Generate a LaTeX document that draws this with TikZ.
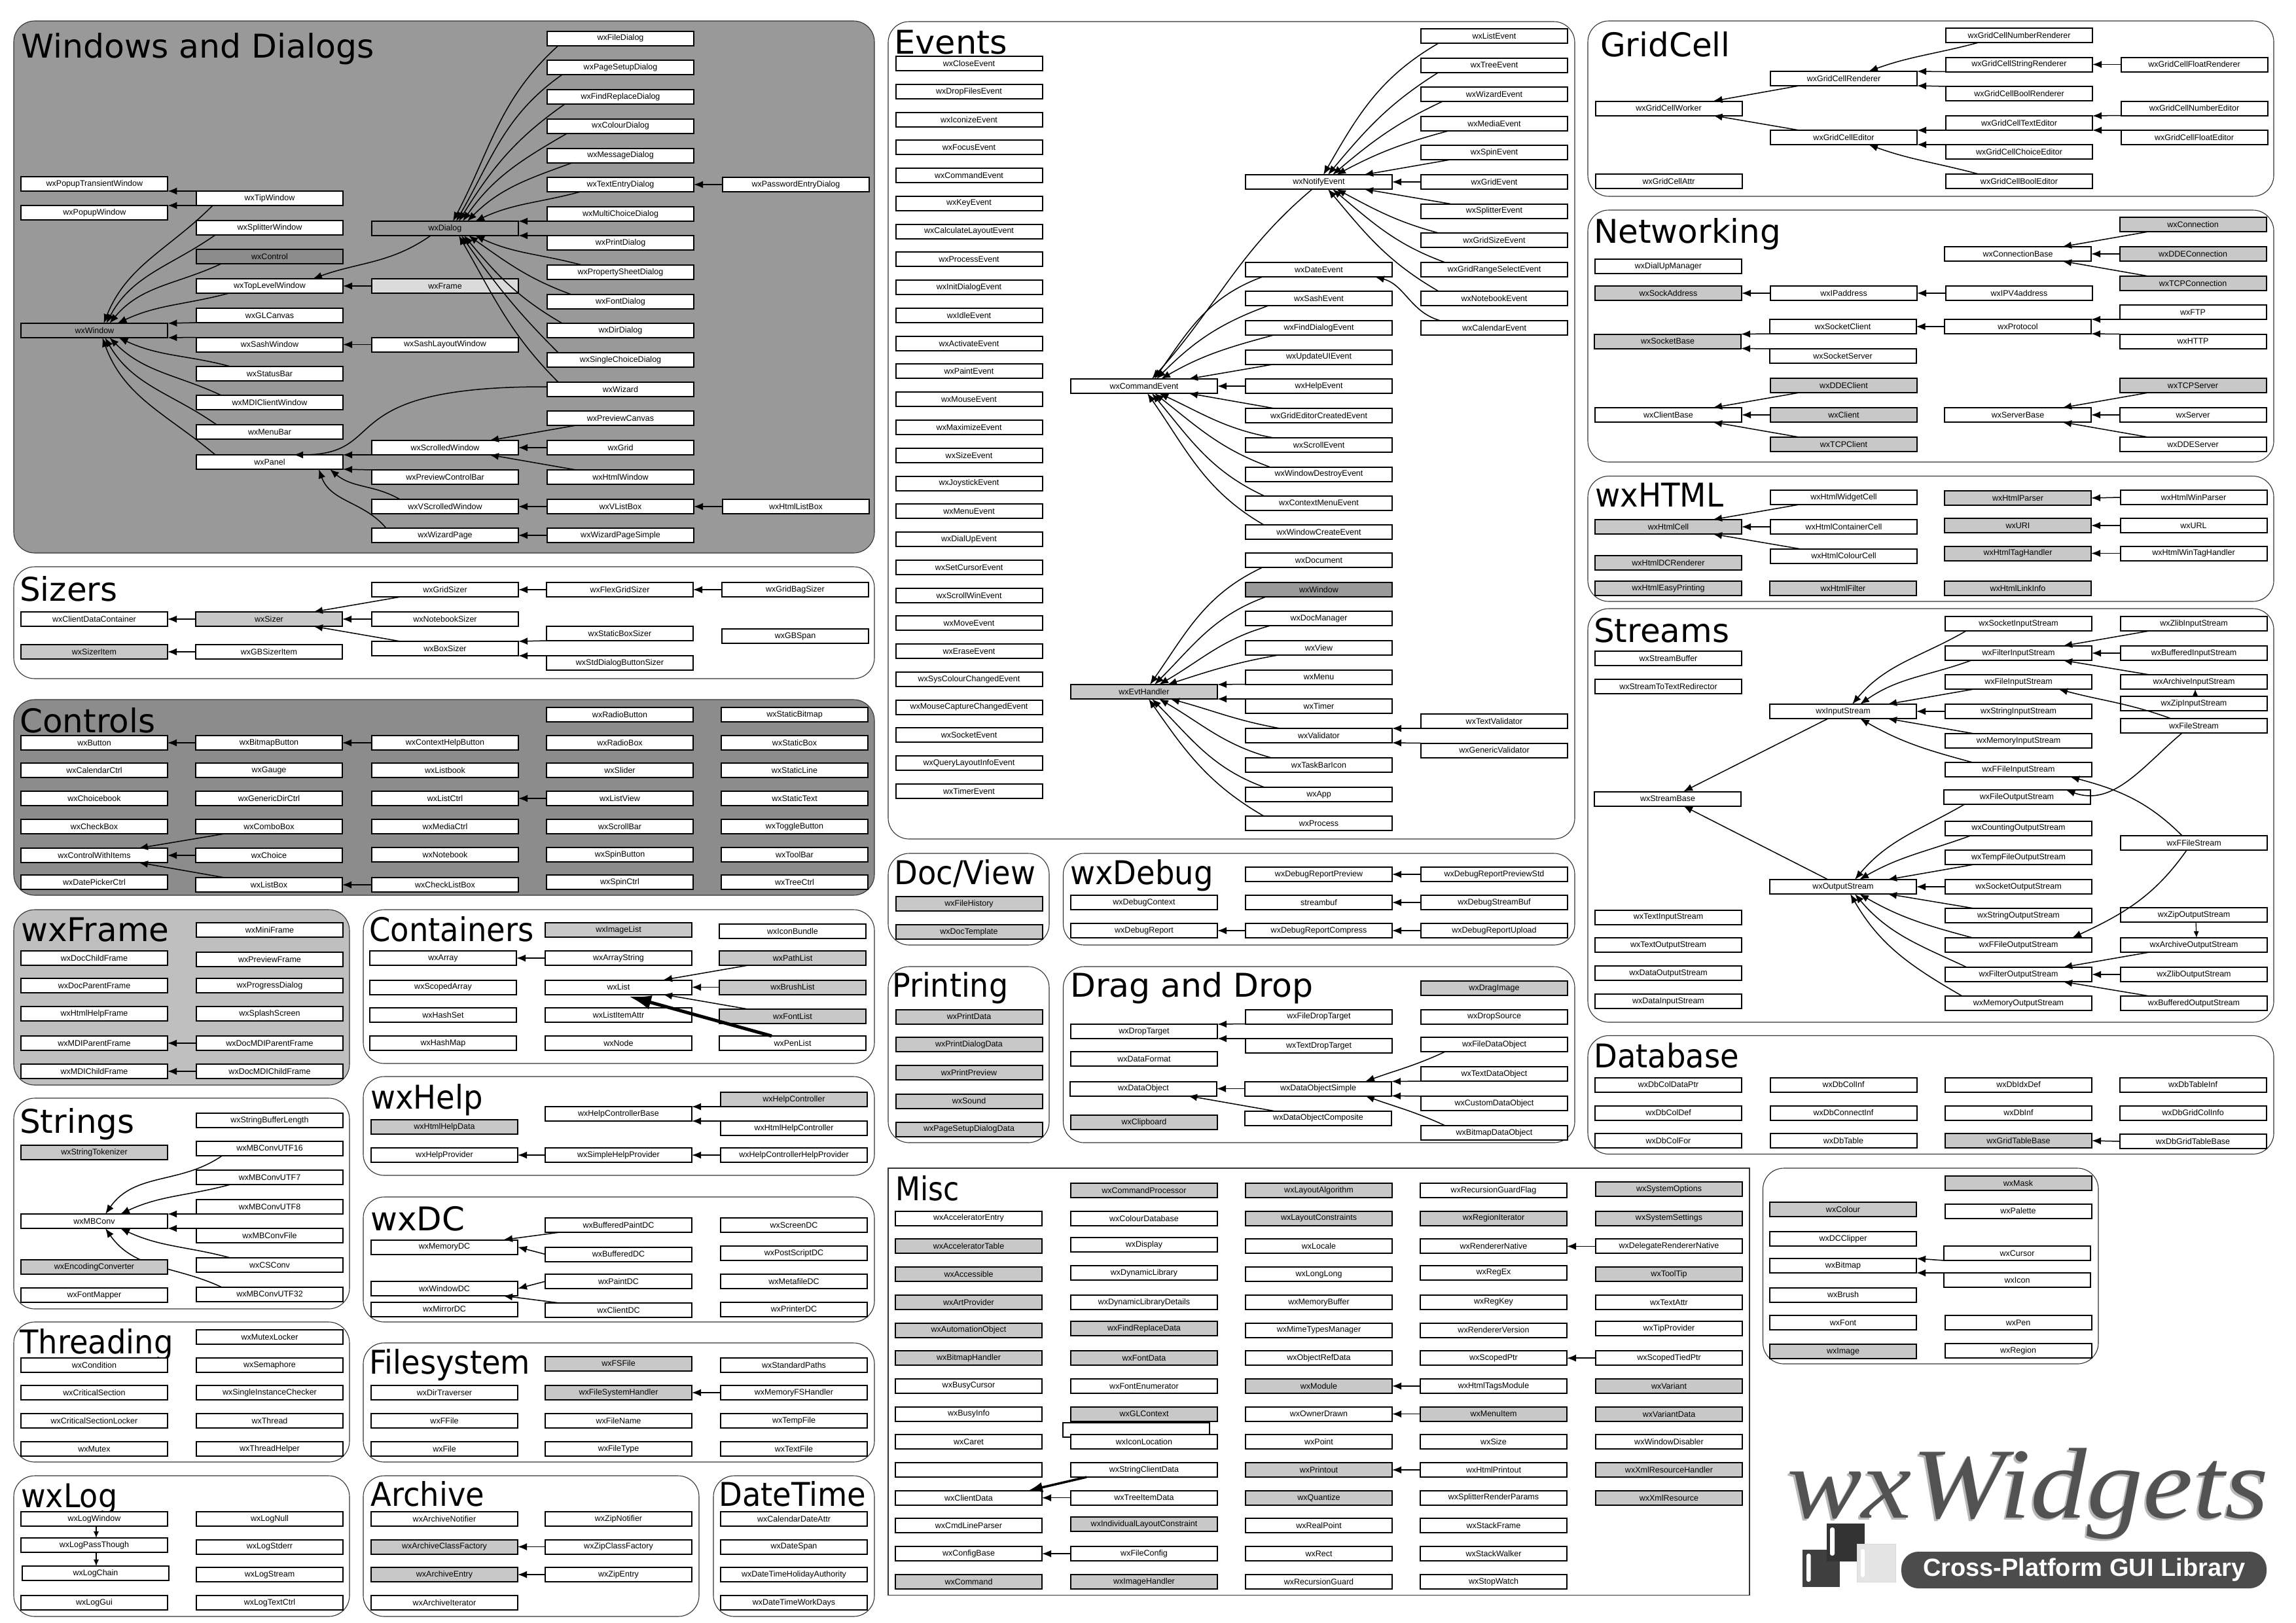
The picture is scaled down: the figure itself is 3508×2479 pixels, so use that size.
\documentclass[tikz,border=0pt]{standalone}
\usepackage{fontspec}
\usepackage{graphicx}
\setmainfont{Liberation Sans}
\newfontfamily\ttlfont{DejaVu Sans}
\newfontfamily\logofont{Liberation Serif}
\usetikzlibrary{arrows.meta}
\definecolor{gb}{HTML}{C8C8C8}
\tikzset{
 bx/.style={draw=black,fill=white,line width=2pt,minimum width=224pt,minimum height=22pt,inner sep=0pt,outer sep=0pt,font=\fontsize{12.5}{14}\selectfont},
 gy/.style={bx,fill=gb},
 ar/.style={draw=black,line width=1.5pt,-{Latex[length=14pt,width=11pt]}},
 pnl/.style={draw=black!80,line width=1.1pt,rounded corners=32pt},
 ttl/.style={anchor=base west,inner sep=0pt,font=\ttlfont\fontsize{50}{56}\selectfont}
}
\newcommand\Nw[3]{\node[bx] (#1) at (#2,#3) {#1};}
\newcommand\Ng[3]{\node[gy] (#1) at (#2,#3) {#1};}
\newcommand\Mw[3]{\node[bx] (#1) at (#2,{1819+42.7*#3}) {#1};}
\newcommand\Mg[3]{\node[gy] (#1) at (#2,{1819+42.7*#3}) {#1};}
\newcommand\Ttl[5]{\node[ttl] (ttl#1) at (#2,{#3+3}) {\scalebox{#5}[1]{#4}};}
\newcommand\EdS[2]{\draw[ar] (#1.west) -- (#2.east);}
\newcommand\EdAU[2]{\draw[ar] (#1.south west) -- (#2.north east);}
\newcommand\EdAD[2]{\draw[ar] (#1.north west) -- (#2.south east);}
\newcommand\EdU[2]{\draw[ar] ([xshift=44pt]#1.south west) -- ([xshift=-44pt]#2.north east);}
\newcommand\EdD[2]{\draw[ar] ([xshift=44pt]#1.north west) -- ([xshift=-44pt]#2.south east);}
\newcommand\EdCU[6]{\draw[ar] ([xshift=#2pt]#1.south west) to[out=#5,in=#6] ([xshift=#4pt]#3.north east);}
\newcommand\EdCD[6]{\draw[ar] ([xshift=#2pt]#1.north west) to[out=#5,in=#6] ([xshift=#4pt]#3.south east);}
\begin{document}
\begin{tikzpicture}[x=1pt,y=-1pt]
\useasboundingbox[fill=white] (0,0) rectangle (3508,2479);
% ---------- panels
\draw[pnl,fill=black!40] (21,32) rectangle (1336,845);
\draw[pnl] (21,866) rectangle (1336,1037);
\draw[pnl,fill=black!45] (21,1069) rectangle (1336,1368);
\draw[pnl,fill=black!25] (21,1390) rectangle (534,1658);
\draw[pnl] (555,1390) rectangle (1336,1625);
\draw[pnl] (555,1645) rectangle (1336,1796);
\draw[pnl] (21,1678) rectangle (534,2000);
\draw[pnl] (555,1829) rectangle (1336,2020);
\draw[pnl] (21,2020) rectangle (534,2234);
\draw[pnl] (555,2052) rectangle (1336,2234);
\draw[pnl] (21,2255) rectangle (534,2470);
\draw[pnl] (555,2255) rectangle (1068,2470);
\draw[pnl] (1090,2255) rectangle (1336,2470);
\draw[pnl] (1357,33) rectangle (2406,1282);
\draw[pnl] (1357,1304) rectangle (1603,1444);
\draw[pnl] (1624.5,1304) rectangle (2406,1444);
\draw[pnl] (1357,1477) rectangle (1603,1746);
\draw[pnl] (1624.5,1477) rectangle (2406,1746);
\draw[draw=black!80,line width=1.1pt] (1357,1785) rectangle (2673,2437.5);
\draw[pnl] (2426,32) rectangle (3474,300);
\draw[pnl] (2426,321) rectangle (3474,706);
\draw[pnl] (2426,727.5) rectangle (3474,919);
\draw[pnl] (2426,930) rectangle (3474,1562);
\draw[pnl] (2426,1582.5) rectangle (3474,1763.5);
\draw[pnl] (2693.5,1785) rectangle (3206,2084);
% ---------- titles
\Ttl{Win}{32}{85}{Windows and Dialogs}{1.01}
\Ttl{Siz}{30}{915}{Sizers}{1}
\Ttl{Con}{30}{1116}{Controls}{1}
\Ttl{Fra}{32}{1435}{wxFrame}{1}
\Ttl{Cnt}{564}{1435}{Containers}{.93}
\Ttl{Hlp}{566}{1691}{wxHelp}{.93}
\Ttl{Str}{30}{1728}{Strings}{1}
\Ttl{DC}{566}{1877}{wxDC}{1}
\Ttl{Thr}{30}{2065}{Threading}{.93}
\Ttl{Fil}{564}{2096}{Filesystem}{.93}
\Ttl{Log}{32}{2300}{wxLog}{.92}
\Ttl{Arc}{566}{2298}{Archive}{.93}
\Ttl{Dat}{1098}{2298}{DateTime}{.93}
\Ttl{Evt}{1366}{79}{Events}{1.02}
\Ttl{Doc}{1366}{1348}{Doc/View}{.93}
\Ttl{Dbg}{1635}{1348}{wxDebug}{.93}
\Ttl{Prn}{1363}{1520}{Printing}{.92}
\Ttl{Dnd}{1635}{1520}{Drag and Drop}{1.01}
\Ttl{Msc}{1368}{1831}{Misc}{.88}
\Ttl{Grd}{2445}{83}{GridCell}{1}
\Ttl{Net}{2435}{368}{Networking}{1}
\Ttl{Htm}{2437}{771.5}{wxHTML}{.935}
\Ttl{Stm}{2435}{978}{Streams}{1}
\Ttl{Dtb}{2435}{1628}{Database}{.93}
% ---------- Windows and Dialogs
\foreach \t/\y in {wxFileDialog/58.7,wxPageSetupDialog/103,wxFindReplaceDialog/148,wxColourDialog/192.5,wxMessageDialog/237.5,wxTextEntryDialog/282,wxMultiChoiceDialog/327,wxPrintDialog/371,wxPropertySheetDialog/416,wxFontDialog/461,wxDirDialog/505,wxSingleChoiceDialog/550,wxWizard/595,wxPreviewCanvas/639,wxGrid/684,wxHtmlWindow/729,wxVListBox/774,wxWizardPageSimple/818}{\Nw{\t}{948}{\y}}
\Nw{wxPasswordEntryDialog}{1216}{282}
\Nw{wxHtmlListBox}{1216}{774}
\node[bx,fill=black!40] (wxDialog) at (680,349) {wxDialog};
\node[bx,fill=black!14] (wxFrame) at (680,437) {wxFrame};
\Nw{wxSashLayoutWindow}{680}{526.5}
\Nw{wxScrolledWindow}{680}{684}
\Nw{wxPreviewControlBar}{680}{729}
\Nw{wxVScrolledWindow}{680}{774}
\Nw{wxWizardPage}{680}{818}
\Nw{wxTipWindow}{412}{303}
\Nw{wxSplitterWindow}{412}{348}
\node[bx,fill=black!45] (wxControl) at (412,392) {wxControl};
\Nw{wxTopLevelWindow}{412}{437}
\Nw{wxGLCanvas}{412}{482}
\Nw{wxSashWindow}{412}{526.5}
\Nw{wxStatusBar}{412}{571}
\Nw{wxMDIClientWindow}{412}{615}
\Nw{wxMenuBar}{412}{660}
\Nw{wxPanel}{412}{706}
\Nw{wxPopupTransientWindow}{144.4}{281}
\Nw{wxPopupWindow}{144.4}{325}
\node[bx,fill=black!40] (wxWindow) at (144.4,505) {wxWindow};
\EdCU{wxFileDialog}{17}{wxDialog}{-100}{222}{62}
\EdCU{wxPageSetupDialog}{23}{wxDialog}{-95}{215}{60}
\EdCU{wxFindReplaceDialog}{27}{wxDialog}{-91}{215}{58}
\EdCU{wxColourDialog}{31}{wxDialog}{-85}{210}{55}
\EdCU{wxMessageDialog}{39}{wxDialog}{-78}{200}{45}
\EdCU{wxTextEntryDialog}{51}{wxDialog}{-66}{195}{25}
\EdAU{wxMultiChoiceDialog}{wxDialog}
\EdAD{wxPrintDialog}{wxDialog}
\EdCD{wxPropertySheetDialog}{53}{wxDialog}{-66}{165}{-25}
\EdCD{wxFontDialog}{37}{wxDialog}{-76}{160}{-35}
\EdCD{wxDirDialog}{23}{wxDialog}{-83}{150}{-50}
\EdCD{wxSingleChoiceDialog}{17}{wxDialog}{-87}{135}{-55}
\EdCD{wxWizard}{17}{wxDialog}{-91}{135}{-60}
\EdS{wxPasswordEntryDialog}{wxTextEntryDialog}
\EdCU{wxTipWindow}{25}{wxWindow}{-98}{225}{68}
\EdCU{wxSplitterWindow}{29}{wxWindow}{-94}{215}{62}
\EdCU{wxControl}{38}{wxWindow}{-89}{205}{50}
\EdCU{wxTopLevelWindow}{50}{wxWindow}{-77}{195}{25}
\EdAU{wxGLCanvas}{wxWindow}
\EdAD{wxSashWindow}{wxWindow}
\EdCD{wxStatusBar}{52}{wxWindow}{-75}{165}{-25}
\EdCD{wxMDIClientWindow}{38}{wxWindow}{-89}{155}{-45}
\EdCD{wxMenuBar}{31}{wxWindow}{-96}{145}{-60}
\EdCD{wxPanel}{29}{wxWindow}{-100}{140}{-70}
\EdAD{wxTipWindow}{wxPopupTransientWindow}
\EdAU{wxTipWindow}{wxPopupWindow}
\draw[ar] ([xshift=90pt]wxDialog.south west) to[out=215,in=20] ([xshift=-46pt]wxTopLevelWindow.north east);
\EdS{wxFrame}{wxTopLevelWindow}
\EdS{wxSashLayoutWindow}{wxSashWindow}
\draw[ar] ([yshift=4pt]wxWizard.west) .. controls (500,590) and (600,695) .. ([xshift=-75pt]wxPanel.north east);
\EdU{wxPreviewCanvas}{wxScrolledWindow}
\EdS{wxGrid}{wxScrolledWindow}
\EdD{wxHtmlWindow}{wxScrolledWindow}
\EdAU{wxScrolledWindow}{wxPanel}
\EdAD{wxPreviewControlBar}{wxPanel}
\EdCD{wxVScrolledWindow}{43}{wxPanel}{-20}{150}{-40}
\EdCD{wxWizardPage}{22}{wxPanel}{-37}{130}{-70}
\EdS{wxVListBox}{wxVScrolledWindow}
\EdS{wxHtmlListBox}{wxVListBox}
\EdS{wxWizardPageSimple}{wxWizardPage}
% ---------- Sizers
\Nw{wxGridSizer}{680}{901}\Nw{wxFlexGridSizer}{947}{901}\Nw{wxGridBagSizer}{1215}{901}
\Nw{wxClientDataContainer}{144}{946}\Ng{wxSizer}{411}{946}\Nw{wxNotebookSizer}{680}{946}
\Ng{wxSizerItem}{144}{996}\Nw{wxGBSizerItem}{411}{996}\Nw{wxBoxSizer}{680}{991}
\Nw{wxStaticBoxSizer}{947}{968}\Nw{wxStdDialogButtonSizer}{947}{1013}\Nw{wxGBSpan}{1215}{972}
\EdS{wxFlexGridSizer}{wxGridSizer}\EdS{wxGridBagSizer}{wxFlexGridSizer}
\EdS{wxSizer}{wxClientDataContainer}\EdS{wxNotebookSizer}{wxSizer}\EdS{wxGBSizerItem}{wxSizerItem}
\EdU{wxGridSizer}{wxSizer}\EdD{wxBoxSizer}{wxSizer}\EdAU{wxStaticBoxSizer}{wxBoxSizer}\EdAD{wxStdDialogButtonSizer}{wxBoxSizer}
% ---------- Controls
\foreach \t/\y in {wxRadioButton/1092,wxRadioBox/1135,wxSlider/1177,wxListView/1220,wxScrollBar/1263,wxSpinButton/1306,wxSpinCtrl/1348}{\Nw{\t}{947}{\y}}
\foreach \t/\y in {wxStaticBitmap/1092,wxStaticBox/1135,wxStaticLine/1177,wxStaticText/1220,wxToggleButton/1263,wxToolBar/1306,wxTreeCtrl/1348}{\Nw{\t}{1214}{\y}}
\foreach \t/\y in {wxButton/1135,wxCalendarCtrl/1177,wxChoicebook/1220,wxCheckBox/1263,wxControlWithItems/1307,wxDatePickerCtrl/1348}{\Nw{\t}{144}{\y}}
\foreach \t/\y in {wxBitmapButton/1135,wxGauge/1177,wxGenericDirCtrl/1220,wxComboBox/1263,wxChoice/1307,wxListBox/1352}{\Nw{\t}{411}{\y}}
\foreach \t/\y in {wxContextHelpButton/1135,wxListbook/1177,wxListCtrl/1220,wxMediaCtrl/1263,wxNotebook/1306,wxCheckListBox/1352}{\Nw{\t}{680}{\y}}
\EdS{wxContextHelpButton}{wxBitmapButton}\EdS{wxBitmapButton}{wxButton}\EdS{wxListView}{wxListCtrl}
\EdU{wxComboBox}{wxControlWithItems}\EdS{wxChoice}{wxControlWithItems}\EdD{wxListBox}{wxControlWithItems}\EdS{wxCheckListBox}{wxListBox}
% ---------- wxFrame
\Nw{wxMiniFrame}{412}{1421}\Nw{wxDocChildFrame}{144}{1464}\Nw{wxPreviewFrame}{412}{1466}
\Nw{wxDocParentFrame}{144}{1506}\Nw{wxProgressDialog}{412}{1506}\Nw{wxHtmlHelpFrame}{144}{1549}\Nw{wxSplashScreen}{412}{1549}
\Nw{wxMDIParentFrame}{144}{1594}\Nw{wxDocMDIParentFrame}{412}{1594}\Nw{wxMDIChildFrame}{144}{1637}\Nw{wxDocMDIChildFrame}{412}{1637}
\EdS{wxDocMDIParentFrame}{wxMDIParentFrame}\EdS{wxDocMDIChildFrame}{wxMDIChildFrame}
% ---------- Containers
\Ng{wxImageList}{945}{1421}\Nw{wxIconBundle}{1211}{1423}
\Nw{wxArray}{677}{1464}\Nw{wxArrayString}{945}{1464}\Ng{wxPathList}{1211}{1464}
\Nw{wxScopedArray}{677}{1508.5}\Nw{wxList}{945}{1508.5}\Ng{wxBrushList}{1211}{1508.5}
\Nw{wxHashSet}{677}{1551}\Nw{wxListItemAttr}{945}{1551}\Ng{wxFontList}{1211}{1553}
\Nw{wxHashMap}{677}{1594}\Nw{wxNode}{945}{1594}\Nw{wxPenList}{1211}{1594}
\EdS{wxArrayString}{wxArray}\EdS{wxBrushList}{wxList}\EdU{wxPathList}{wxList}\EdD{wxFontList}{wxList}
\draw[ar,line width=5pt,-{Latex[length=34pt,width=22pt]}] ([xshift=-32pt]wxPenList.north) -- ([xshift=16pt,yshift=-3pt]wxList.south);
% ---------- wxHelp
\Ng{wxHelpController}{1213}{1680}\Nw{wxHelpControllerBase}{945}{1702}\Nw{wxHtmlHelpController}{1213}{1724}\Ng{wxHtmlHelpData}{679}{1722}
\Nw{wxHelpProvider}{679}{1765}\Nw{wxSimpleHelpProvider}{945}{1765}\Nw{wxHelpControllerHelpProvider}{1213}{1765}
\EdAU{wxHelpController}{wxHelpControllerBase}\EdAD{wxHtmlHelpController}{wxHelpControllerBase}
\EdS{wxSimpleHelpProvider}{wxHelpProvider}\EdS{wxHelpControllerHelpProvider}{wxSimpleHelpProvider}
% ---------- Strings
\Nw{wxStringBufferLength}{412}{1712}\Nw{wxMBConvUTF16}{412}{1754.5}\Nw{wxMBConvUTF7}{412}{1799}\Nw{wxMBConvUTF8}{412}{1844}
\Nw{wxMBConvFile}{412}{1888}\Nw{wxCSConv}{412}{1933}\Nw{wxMBConvUTF32}{412}{1977.5}
\Ng{wxStringTokenizer}{144}{1761}\Nw{wxMBConv}{144}{1866}\Nw{wxFontMapper}{144}{1979}
\EdCU{wxMBConvUTF16}{40}{wxMBConv}{-95}{215}{55}
\EdCU{wxMBConvUTF7}{52}{wxMBConv}{-72}{195}{25}
\EdAU{wxMBConvUTF8}{wxMBConv}\EdAD{wxMBConvFile}{wxMBConv}
\EdCD{wxCSConv}{52}{wxMBConv}{-72}{165}{-25}
\EdCD{wxMBConvUTF32}{38}{wxMBConv}{-95}{155}{-55}
\Ng{wxEncodingConverter}{144}{1936}
% ---------- wxDC
\Nw{wxBufferedPaintDC}{945}{1872}\Nw{wxScreenDC}{1213}{1872}\Nw{wxMemoryDC}{679}{1905.5}\Nw{wxBufferedDC}{945}{1916.5}\Nw{wxPostScriptDC}{1213}{1915}
\Nw{wxPaintDC}{945}{1958}\Nw{wxMetafileDC}{1213}{1958}\Nw{wxWindowDC}{679}{1969}\Nw{wxMirrorDC}{679}{2000.5}\Nw{wxClientDC}{945}{2002}\Nw{wxPrinterDC}{1213}{2000.5}
\draw[ar] ([xshift=22pt]wxBufferedPaintDC.south west) -- ([xshift=-22pt]wxMemoryDC.north east);
\EdS{wxBufferedDC}{wxMemoryDC}\EdS{wxPaintDC}{wxWindowDC}
\draw[ar] ([xshift=22pt]wxClientDC.north west) -- ([xshift=-22pt]wxWindowDC.south east);
% ---------- Threading
\foreach \t/\y in {wxMutexLocker/2043,wxSemaphore/2086,wxSingleInstanceChecker/2128,wxThread/2171,wxThreadHelper/2214}{\Nw{\t}{412}{\y}}
\foreach \t/\y in {wxCondition/2086,wxCriticalSection/2128,wxCriticalSectionLocker/2171,wxMutex/2214}{\Nw{\t}{144}{\y}}
% ---------- Filesystem
\Ng{wxFSFile}{945}{2083.5}\Nw{wxStandardPaths}{1213}{2086}\Nw{wxDirTraverser}{679}{2128}\Ng{wxFileSystemHandler}{945}{2128}\Nw{wxMemoryFSHandler}{1213}{2128}
\Nw{wxFFile}{679}{2171}\Nw{wxFileName}{945}{2171}\Nw{wxTempFile}{1213}{2171}\Nw{wxFile}{679}{2214}\Nw{wxFileType}{945}{2214}\Nw{wxTextFile}{1213}{2214}
\EdS{wxMemoryFSHandler}{wxFileSystemHandler}
% ---------- wxLog
\Nw{wxLogWindow}{144}{2321}\Nw{wxLogPassThough}{144}{2361}\Nw{wxLogChain}{146}{2404}\Nw{wxLogGui}{144}{2449}
\Nw{wxLogNull}{412}{2321}\Nw{wxLogStderr}{412}{2363.5}\Nw{wxLogStream}{412}{2406}\Nw{wxLogTextCtrl}{412}{2449}
\draw[draw=black,line width=1.2pt,-{Latex[length=10pt,width=8pt]}] ([xshift=3pt]wxLogWindow.south) -- ([xshift=3pt]wxLogPassThough.north);
\draw[draw=black,line width=1.2pt,-{Latex[length=10pt,width=8pt]}] ([xshift=3pt]wxLogPassThough.south) -- ([xshift=1pt]wxLogChain.north);
% ---------- Archive
\Nw{wxArchiveNotifier}{679}{2321}\Ng{wxArchiveClassFactory}{679}{2363.5}\Ng{wxArchiveEntry}{679}{2406}\Nw{wxArchiveIterator}{679}{2449}
\Nw{wxZipNotifier}{945}{2321}\Nw{wxZipClassFactory}{945}{2363.5}\Nw{wxZipEntry}{945}{2406}
\EdS{wxZipClassFactory}{wxArchiveClassFactory}\EdS{wxZipEntry}{wxArchiveEntry}
% ---------- DateTime
\Nw{wxCalendarDateAttr}{1213}{2321}\Nw{wxDateSpan}{1213}{2363.5}\Nw{wxDateTimeHolidayAuthority}{1213}{2406}\Nw{wxDateTimeWorkDays}{1213}{2449}
% ---------- Events
\foreach \t [count=\i from 0] in {wxCloseEvent,wxDropFilesEvent,wxIconizeEvent,wxFocusEvent,wxCommandEvent,wxKeyEvent,wxCalculateLayoutEvent,wxProcessEvent,wxInitDialogEvent,wxIdleEvent,wxActivateEvent,wxPaintEvent,wxMouseEvent,wxMaximizeEvent,wxSizeEvent,wxJoystickEvent,wxMenuEvent,wxDialUpEvent,wxSetCursorEvent,wxScrollWinEvent,wxMoveEvent,wxEraseEvent,wxSysColourChangedEvent,wxMouseCaptureChangedEvent,wxSocketEvent,wxQueryLayoutInfoEvent,wxTimerEvent}{\node[bx] (L\t) at (1480.5,{97+42.77*\i}) {\t};}
\Nw{wxCommandEvent}{1748}{590}\Ng{wxEvtHandler}{1748}{1057}
\foreach \t/\y in {wxNotifyEvent/278,wxDateEvent/412,wxSashEvent/456,wxFindDialogEvent/501,wxUpdateUIEvent/545.5,wxHelpEvent/590,wxGridEditorCreatedEvent/635,wxScrollEvent/680,wxWindowDestroyEvent/724.5,wxContextMenuEvent/768.5,wxWindowCreateEvent/813,wxDocument/856,wxDocManager/945,wxView/990,wxMenu/1034.5,wxTimer/1079,wxValidator/1124,wxTaskBarIcon/1169,wxApp/1214,wxProcess/1258}{\Nw{\t}{2015}{\y}}
\node[bx,fill=black!40] (wxWindowE) at (2015,901) {wxWindow};
\foreach \t/\y in {wxListEvent/55,wxTreeEvent/99.5,wxWizardEvent/144,wxMediaEvent/189,wxSpinEvent/233,wxGridEvent/278,wxSplitterEvent/322.5,wxGridSizeEvent/367,wxGridRangeSelectEvent/412,wxNotebookEvent/456,wxCalendarEvent/501,wxTextValidator/1102,wxGenericValidator/1146.5}{\Nw{\t}{2283}{\y}}
\EdCU{wxListEvent}{27}{wxNotifyEvent}{-105}{210}{60}
\EdCU{wxTreeEvent}{27}{wxNotifyEvent}{-98}{212}{50}
\EdCU{wxWizardEvent}{33}{wxNotifyEvent}{-91}{205}{40}
\EdCU{wxMediaEvent}{42}{wxNotifyEvent}{-85}{195}{28}
\draw[ar] ([xshift=45pt]wxSpinEvent.south west) -- ([xshift=-43pt]wxNotifyEvent.north east);
\EdS{wxGridEvent}{wxNotifyEvent}
\draw[ar] ([xshift=45pt]wxSplitterEvent.north west) -- ([xshift=-43pt]wxNotifyEvent.south east);
\EdCD{wxGridSizeEvent}{27}{wxNotifyEvent}{-85}{165}{-28}
\EdCD{wxGridRangeSelectEvent}{37}{wxNotifyEvent}{-91}{160}{-40}
\EdCD{wxNotebookEvent}{27}{wxNotifyEvent}{-98}{150}{-50}
\EdCD{wxCalendarEvent}{30}{wxDateEvent}{-26}{165}{-15}
\draw[ar] ([xshift=102pt]wxNotifyEvent.south west) to[out=220,in=48] ([xshift=-100pt]wxCommandEvent.north east);
\EdCU{wxDateEvent}{26}{wxCommandEvent}{-96}{200}{55}
\EdCU{wxSashEvent}{35}{wxCommandEvent}{-93}{200}{45}
\EdCU{wxFindDialogEvent}{43}{wxCommandEvent}{-86}{195}{30}
\EdU{wxUpdateUIEvent}{wxCommandEvent}
\EdS{wxHelpEvent}{wxCommandEvent}
\EdD{wxGridEditorCreatedEvent}{wxCommandEvent}
\EdCD{wxScrollEvent}{43}{wxCommandEvent}{-89}{170}{-25}
\EdCD{wxWindowDestroyEvent}{37}{wxCommandEvent}{-96}{160}{-38}
\EdCD{wxContextMenuEvent}{28}{wxCommandEvent}{-100}{155}{-50}
\EdCD{wxWindowCreateEvent}{28}{wxCommandEvent}{-107}{150}{-55}
\EdCU{wxDocument}{26}{wxEvtHandler}{-103}{205}{55}
\EdCU{wxWindowE}{31}{wxEvtHandler}{-96}{200}{45}
\EdCU{wxDocManager}{38}{wxEvtHandler}{-89}{195}{30}
\EdCU{wxView}{50}{wxEvtHandler}{-76}{190}{18}
\EdAU{wxMenu}{wxEvtHandler}\EdAD{wxTimer}{wxEvtHandler}
\EdCD{wxValidator}{53}{wxEvtHandler}{-72}{170}{-15}
\EdCD{wxTaskBarIcon}{40}{wxEvtHandler}{-89}{165}{-30}
\EdCD{wxApp}{29}{wxEvtHandler}{-100}{160}{-45}
\EdCD{wxProcess}{28}{wxEvtHandler}{-105}{150}{-55}
\EdAU{wxTextValidator}{wxValidator}\EdAD{wxGenericValidator}{wxValidator}
% ---------- Doc/View, wxDebug
\Ng{wxFileHistory}{1480.5}{1381}\Ng{wxDocTemplate}{1480.5}{1424}
\Nw{wxDebugReportPreview}{2015}{1336}\Nw{wxDebugReportPreviewStd}{2283}{1336}
\Nw{wxDebugContext}{1748}{1379}\Nw{streambuf}{2015}{1379}\Nw{wxDebugStreamBuf}{2283}{1379}
\Nw{wxDebugReport}{1748}{1422}\Nw{wxDebugReportCompress}{2015}{1422}\Nw{wxDebugReportUpload}{2283}{1422}
\EdS{wxDebugReportPreviewStd}{wxDebugReportPreview}\EdS{wxDebugStreamBuf}{streambuf}\EdS{wxDebugReportUpload}{wxDebugReportCompress}\EdS{wxDebugReportCompress}{wxDebugReport}
% ---------- Printing
\Ng{wxPrintData}{1480.5}{1553.5}\Ng{wxPrintDialogData}{1480.5}{1596}\Ng{wxPrintPreview}{1480.5}{1639}\Ng{wxSound}{1480.5}{1682.5}\Ng{wxPageSetupDialogData}{1480.5}{1725.5}
% ---------- Drag and Drop
\Ng{wxDragImage}{2283}{1510}\Nw{wxFileDropTarget}{2015}{1553.5}\Nw{wxDropSource}{2283}{1553.5}\Nw{wxDropTarget}{1748}{1576}
\Nw{wxFileDataObject}{2283}{1596}\Nw{wxTextDropTarget}{2015}{1598}\Nw{wxDataFormat}{1748}{1618}\Nw{wxTextDataObject}{2283}{1641}
\Nw{wxDataObject}{1747}{1663.5}\Nw{wxDataObjectSimple}{2014}{1663.5}\Nw{wxCustomDataObject}{2283}{1686}\Nw{wxDataObjectComposite}{2014}{1708.5}
\Ng{wxClipboard}{1748}{1715}\Nw{wxBitmapDataObject}{2283}{1731}
\EdAU{wxFileDropTarget}{wxDropTarget}\EdAD{wxTextDropTarget}{wxDropTarget}\EdS{wxDataObjectSimple}{wxDataObject}
\EdD{wxDataObjectComposite}{wxDataObject}
\EdCU{wxFileDataObject}{37}{wxDataObjectSimple}{-40}{205}{20}
\EdAU{wxTextDataObject}{wxDataObjectSimple}\EdAD{wxCustomDataObject}{wxDataObjectSimple}
\EdCD{wxBitmapDataObject}{37}{wxDataObjectSimple}{-40}{155}{-20}
% ---------- Misc
\node[bx] (blankMiscB) at (1736,2184.5) {};
\Mw{wxAcceleratorEntry}{1480}{1}\Mg{wxAcceleratorTable}{1480}{2}\Mg{wxAccessible}{1480}{3}\Mg{wxArtProvider}{1480}{4}\Mg{wxAutomationObject}{1480}{5}\Mg{wxBitmapHandler}{1480}{6}\Mw{wxBusyCursor}{1480}{7}\Mw{wxBusyInfo}{1480}{8}\Mw{wxCaret}{1480}{9}
\node[bx] (blankMiscA) at (1480,{1819+42.7*10}) {};
\Mw{wxClientData}{1480}{11}\Mw{wxCmdLineParser}{1480}{12}\Mw{wxConfigBase}{1480}{13}\Mg{wxCommand}{1480}{14}
\Mg{wxCommandProcessor}{1748}{0}\Mw{wxColourDatabase}{1748}{1}\Mw{wxDisplay}{1748}{1.95}\Mw{wxDynamicLibrary}{1748}{2.95}\Mw{wxDynamicLibraryDetails}{1748}{4}\Mg{wxFindReplaceData}{1748}{4.95}\Mg{wxFontData}{1748}{6}\Mw{wxFontEnumerator}{1748}{7}\Mg{wxGLContext}{1748}{8}\Mw{wxIconLocation}{1748}{9}\Mw{wxStringClientData}{1748}{10}\Mw{wxTreeItemData}{1748}{11}\Mg{wxIndividualLayoutConstraint}{1748}{11.95}\Mw{wxFileConfig}{1748}{13}\Mg{wxImageHandler}{1748}{14}
\Mg{wxLayoutAlgorithm}{2015}{0}\Mg{wxLayoutConstraints}{2015}{1}\Mw{wxLocale}{2015}{2}\Mw{wxLongLong}{2015}{3}\Mw{wxMemoryBuffer}{2015}{4}\Mw{wxMimeTypesManager}{2015}{5}\Mw{wxObjectRefData}{2015}{6}\Mg{wxModule}{2015}{7}\Mw{wxOwnerDrawn}{2015}{8}\Mw{wxPoint}{2015}{9}\Mg{wxPrintout}{2015}{10}\Mg{wxQuantize}{2015}{11}\Mw{wxRealPoint}{2015}{12}\Mw{wxRect}{2015}{13}\Mw{wxRecursionGuard}{2015}{14}
\Mw{wxRecursionGuardFlag}{2282}{0}\Mg{wxRegionIterator}{2282}{1}\Mw{wxRendererNative}{2282}{2}\Mw{wxRegEx}{2282}{2.95}\Mw{wxRegKey}{2282}{4}\Mw{wxRendererVersion}{2282}{5}\Mw{wxScopedPtr}{2282}{6}\Mw{wxHtmlTagsModule}{2282}{7}\Mg{wxMenuItem}{2282}{8}\Mw{wxSize}{2282}{9}\Mw{wxHtmlPrintout}{2282}{10}\Mw{wxSplitterRenderParams}{2282}{11}\Mw{wxStackFrame}{2282}{12}\Mw{wxStackWalker}{2282}{13}\Mw{wxStopWatch}{2282}{14}
\Mg{wxSystemOptions}{2550}{-0.05}\Mg{wxSystemSettings}{2550}{1}\Mw{wxDelegateRendererNative}{2550}{2}\Mg{wxToolTip}{2550}{3}\Mw{wxTextAttr}{2550}{4}\Mw{wxTipProvider}{2550}{4.95}\Mw{wxScopedTiedPtr}{2550}{6}\Mg{wxVariant}{2550}{7}\Mg{wxVariantData}{2550}{8}\Mw{wxWindowDisabler}{2550}{9}\Mg{wxXmlResourceHandler}{2550}{10}\Mg{wxXmlResource}{2550}{11}
\EdS{wxDelegateRendererNative}{wxRendererNative}\EdS{wxScopedTiedPtr}{wxScopedPtr}\EdS{wxHtmlTagsModule}{wxModule}\EdS{wxMenuItem}{wxOwnerDrawn}\EdS{wxHtmlPrintout}{wxPrintout}\EdS{wxFileConfig}{wxConfigBase}\EdS{wxTreeItemData}{wxClientData}
\draw[ar,line width=3.5pt,-{Latex[length=22pt,width=16pt]}] ([xshift=24pt]wxStringClientData.south west) -- ([xshift=-21pt]wxClientData.north east);
% ---------- GDI panel
\Ng{wxMask}{3083.5}{1808}\Ng{wxColour}{2816}{1848}\Nw{wxPalette}{3083.5}{1850.5}\Nw{wxDCClipper}{2816}{1893}\Nw{wxCursor}{3082}{1915}\Nw{wxBitmap}{2816}{1934}\Nw{wxIcon}{3082}{1956}\Nw{wxBrush}{2816}{1978.5}\Nw{wxFont}{2816}{2021}\Nw{wxPen}{3083.5}{2021}\Ng{wxImage}{2816}{2065}\Nw{wxRegion}{3083.5}{2064}
\EdAU{wxCursor}{wxBitmap}\EdAD{wxIcon}{wxBitmap}
% ---------- GridCell
\Nw{wxGridCellNumberRenderer}{3085}{54}\Nw{wxGridCellStringRenderer}{3085}{98.5}\Nw{wxGridCellFloatRenderer}{3352.5}{98.5}\Nw{wxGridCellRenderer}{2817}{120}\Nw{wxGridCellBoolRenderer}{3085}{143}
\Nw{wxGridCellWorker}{2549.5}{165.5}\Nw{wxGridCellNumberEditor}{3352.5}{165.5}\Nw{wxGridCellTextEditor}{3085}{188}\Nw{wxGridCellFloatEditor}{3352.5}{210}\Nw{wxGridCellEditor}{2817}{210}\Nw{wxGridCellChoiceEditor}{3085}{232}\Nw{wxGridCellBoolEditor}{3085}{277}\Nw{wxGridCellAttr}{2549.5}{277}
\EdU{wxGridCellRenderer}{wxGridCellWorker}\EdD{wxGridCellEditor}{wxGridCellWorker}
\EdCU{wxGridCellNumberRenderer}{50}{wxGridCellRenderer}{-74}{195}{20}
\EdAU{wxGridCellStringRenderer}{wxGridCellRenderer}\EdAD{wxGridCellBoolRenderer}{wxGridCellRenderer}\EdS{wxGridCellFloatRenderer}{wxGridCellStringRenderer}
\EdAU{wxGridCellNumberEditor}{wxGridCellTextEditor}\EdAD{wxGridCellFloatEditor}{wxGridCellTextEditor}\EdAU{wxGridCellTextEditor}{wxGridCellEditor}\EdAD{wxGridCellChoiceEditor}{wxGridCellEditor}
\EdCD{wxGridCellBoolEditor}{50}{wxGridCellEditor}{-74}{165}{-20}
% ---------- Networking
\Ng{wxConnection}{3350.5}{343}\Nw{wxConnectionBase}{3083}{388}\Ng{wxDDEConnection}{3350.5}{388}\Ng{wxTCPConnection}{3350.5}{433}\Nw{wxDialUpManager}{2549}{407}
\Ng{wxSockAddress}{2549}{448}\Nw{wxIPaddress}{2817}{448}\Nw{wxIPV4address}{3085}{448}\Nw{wxFTP}{3350.5}{477}\Nw{wxSocketClient}{2815.5}{499}\Nw{wxProtocol}{3083}{499}\Ng{wxSocketBase}{2548}{521.5}\Nw{wxHTTP}{3350.5}{521.5}\Nw{wxSocketServer}{2815.5}{544}
\Ng{wxDDEClient}{2817}{589}\Ng{wxTCPServer}{3350.5}{589}\Nw{wxClientBase}{2549}{634}\Ng{wxClient}{2817}{634}\Nw{wxServerBase}{3083}{634}\Nw{wxServer}{3350.5}{634}\Ng{wxTCPClient}{2817}{679}\Nw{wxDDEServer}{3350.5}{679}
\EdU{wxConnection}{wxConnectionBase}\EdS{wxDDEConnection}{wxConnectionBase}\EdD{wxTCPConnection}{wxConnectionBase}\EdS{wxIPaddress}{wxSockAddress}\EdS{wxIPV4address}{wxIPaddress}
\EdAU{wxSocketClient}{wxSocketBase}\EdAD{wxSocketServer}{wxSocketBase}\EdS{wxProtocol}{wxSocketClient}\EdAU{wxFTP}{wxProtocol}\EdAD{wxHTTP}{wxProtocol}
\EdU{wxDDEClient}{wxClientBase}\EdS{wxClient}{wxClientBase}\EdD{wxTCPClient}{wxClientBase}\EdU{wxTCPServer}{wxServerBase}\EdS{wxServer}{wxServerBase}\EdD{wxDDEServer}{wxServerBase}
% ---------- wxHTML
\Nw{wxHtmlWidgetCell}{2817}{760}\Ng{wxHtmlParser}{3083}{761}\Nw{wxHtmlWinParser}{3351.5}{760}\Ng{wxHtmlCell}{2549}{805}\Nw{wxHtmlContainerCell}{2817}{805}\Ng{wxURI}{3083}{803}\Nw{wxURL}{3351.5}{803}
\Ng{wxHtmlDCRenderer}{2549}{860}\Nw{wxHtmlColourCell}{2817}{849.5}\Ng{wxHtmlTagHandler}{3083}{845.5}\Nw{wxHtmlWinTagHandler}{3351.5}{845.5}\Ng{wxHtmlEasyPrinting}{2549}{899}\Ng{wxHtmlFilter}{2816}{899}\Ng{wxHtmlLinkInfo}{3083}{899}
\EdU{wxHtmlWidgetCell}{wxHtmlCell}\EdS{wxHtmlContainerCell}{wxHtmlCell}\EdD{wxHtmlColourCell}{wxHtmlCell}\EdS{wxHtmlWinParser}{wxHtmlParser}\EdS{wxURL}{wxURI}\EdS{wxHtmlWinTagHandler}{wxHtmlTagHandler}
% ---------- Streams
\foreach \t/\y in {wxSocketInputStream/953,wxFilterInputStream/998,wxFileInputStream/1042,wxStringInputStream/1087,wxMemoryInputStream/1132,wxFFileInputStream/1176,wxCountingOutputStream/1265.5,wxTempFileOutputStream/1310,wxSocketOutputStream/1355,wxStringOutputStream/1399,wxFFileOutputStream/1444,wxFilterOutputStream/1489,wxMemoryOutputStream/1533}{\Nw{\t}{3084}{\y}}
\Nw{wxFileOutputStream}{3081.5}{1218}
\foreach \t/\y in {wxZlibInputStream/953,wxBufferedInputStream/998,wxArchiveInputStream/1042,wxZipInputStream/1075,wxFileStream/1109,wxFFileStream/1288,wxZipOutputStream/1398,wxArchiveOutputStream/1444,wxZlibOutputStream/1489,wxBufferedOutputStream/1533}{\Nw{\t}{3352}{\y}}
\foreach \t/\y in {wxStreamBuffer/1006,wxStreamToTextRedirector/1049,wxTextInputStream/1401.5,wxTextOutputStream/1444,wxDataOutputStream/1487,wxDataInputStream/1530}{\Nw{\t}{2549}{\y}}
\Nw{wxStreamBase}{2548}{1220.5}\Nw{wxInputStream}{2816}{1087}\Nw{wxOutputStream}{2816}{1355}
\EdCU{wxSocketInputStream}{32}{wxInputStream}{-98}{210}{50}
\EdCU{wxFilterInputStream}{40}{wxInputStream}{-86}{200}{35}
\EdU{wxFileInputStream}{wxInputStream}\EdS{wxStringInputStream}{wxInputStream}\EdD{wxMemoryInputStream}{wxInputStream}
\EdCD{wxFFileInputStream}{42}{wxInputStream}{-86}{165}{-30}
\EdU{wxZlibInputStream}{wxFilterInputStream}\EdS{wxBufferedInputStream}{wxFilterInputStream}\EdD{wxArchiveInputStream}{wxFilterInputStream}
\draw[draw=black,line width=1.2pt,-{Latex[length=10pt,width=8pt]}] ([xshift=2pt]wxZipInputStream.north) -- ([xshift=2pt]wxArchiveInputStream.south);
\EdCD{wxFileStream}{77}{wxFileInputStream}{-51}{160}{-15}
\draw[ar] ([xshift=94pt]wxFileStream.south west) to[out=220,in=-20] ([xshift=-37pt]wxFileOutputStream.north east);
\EdCD{wxFFileStream}{94}{wxFFileInputStream}{-33}{135}{-15}
\draw[ar] ([xshift=101pt]wxFFileStream.south west) to[out=235,in=25] ([xshift=-30pt]wxFFileOutputStream.north east);
\EdCU{wxFileOutputStream}{32}{wxOutputStream}{-94}{210}{50}
\EdCU{wxCountingOutputStream}{40}{wxOutputStream}{-87}{200}{30}
\EdU{wxTempFileOutputStream}{wxOutputStream}\EdS{wxSocketOutputStream}{wxOutputStream}\EdD{wxStringOutputStream}{wxOutputStream}
\EdCD{wxFFileOutputStream}{42}{wxOutputStream}{-87}{165}{-30}
\EdCD{wxFilterOutputStream}{33}{wxOutputStream}{-94}{155}{-50}
\EdCD{wxMemoryOutputStream}{26}{wxOutputStream}{-101}{150}{-60}
\draw[ar] ([xshift=89pt]wxInputStream.south west) -- ([xshift=-88pt]wxStreamBase.north east);
\draw[ar] ([xshift=89pt]wxOutputStream.north west) -- ([xshift=-88pt]wxStreamBase.south east);
\EdU{wxArchiveOutputStream}{wxFilterOutputStream}\EdS{wxZlibOutputStream}{wxFilterOutputStream}\EdD{wxBufferedOutputStream}{wxFilterOutputStream}
\draw[draw=black,line width=1.2pt,-{Latex[length=10pt,width=8pt]}] ([xshift=3pt]wxZipOutputStream.south) -- ([xshift=4pt]wxArchiveOutputStream.north);
% ---------- Database
\foreach \t/\x/\y in {wxDbColDataPtr/2549/1657.5,wxDbColInf/2816.5/1657.5,wxDbIdxDef/3084/1657.5,wxDbTableInf/3350.5/1657.5,wxDbColDef/2549/1700.5,wxDbConnectInf/2816.5/1700.5,wxDbInf/3084/1700.5,wxDbGridColInfo/3350.5/1700.5,wxDbColFor/2549/1743,wxDbTable/2816.5/1743,wxDbGridTableBase/3350.5/1744}{\Nw{\t}{\x}{\y}}
\Ng{wxGridTableBase}{3084}{1743}
\EdS{wxDbGridTableBase}{wxGridTableBase}
% ---------- logo
\fill[black!70,rounded corners=26pt] (2905,2371) rectangle (3463,2427);
\fill[black!75] (2754,2368) rectangle (2811,2425);
\fill[black!80] (2791,2328) rectangle (2849,2386);
\filldraw[draw=black!15,fill=black!10] (2837,2359) rectangle (2896,2417);
\fill[white,rounded corners=3pt] (2796,2334) rectangle (2803,2377);
\fill[white,rounded corners=3pt] (2760,2374) rectangle (2766.5,2417);
\fill[white,rounded corners=3pt] (2843,2367) rectangle (2849,2410);
\node[anchor=west,inner sep=0pt,text=white,font=\fontsize{38}{42}\selectfont\bfseries] (logosub) at (2938,2399) {Cross-Platform GUI Library};
\node[anchor=base west,inner sep=0pt,text=black!28,font=\logofont\itshape\fontsize{167}{180}\selectfont] (logoshadow) at (2727,2322) {\scalebox{1.03}[.92]{wxWidgets}};
\node[anchor=base west,inner sep=0pt,text=black!68,font=\logofont\itshape\fontsize{167}{180}\selectfont] (logomain) at (2730,2319) {\scalebox{1.03}[.92]{wxWidgets}};
\end{tikzpicture}
\end{document}
